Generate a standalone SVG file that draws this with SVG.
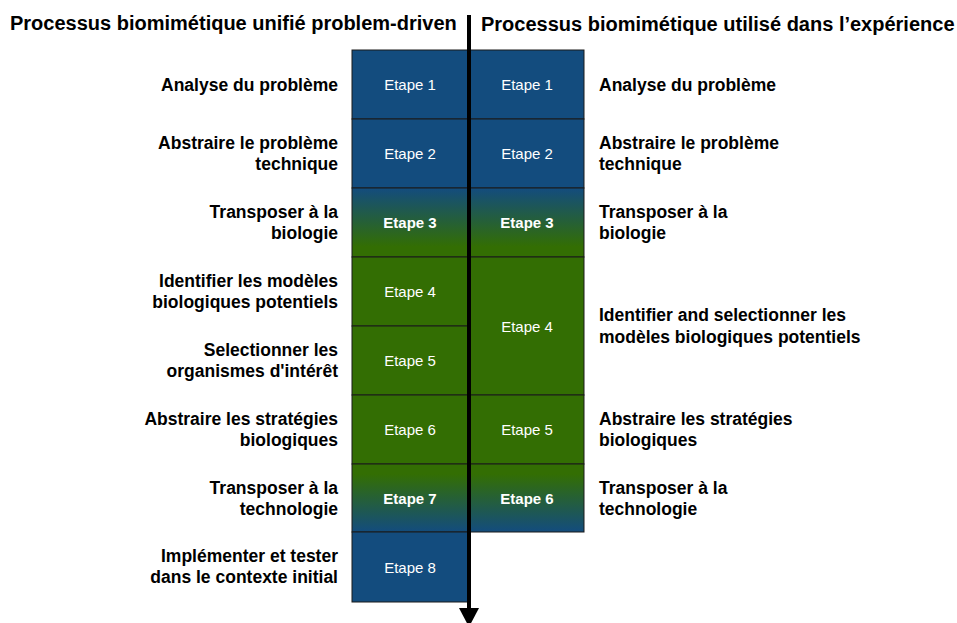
<svg xmlns="http://www.w3.org/2000/svg" width="957" height="623" viewBox="0 0 957 623">
<style>
.title{font-family:"Liberation Sans",Arial,sans-serif;font-weight:bold;font-size:20px;fill:#000}
.lbl{font-family:"Liberation Sans",Arial,sans-serif;font-weight:bold;font-size:17.5px;fill:#000}
.et{font-family:"Liberation Sans",Arial,sans-serif;font-size:15px;fill:#fff;text-anchor:middle;dominant-baseline:central}
.etb{font-weight:bold}
.cell{stroke:#1a1a1a;stroke-width:1}
.blue{fill:#134c7e}
.green{fill:#336e03}
.b2g{fill:url(#b2g)}
.g2b{fill:url(#g2b)}
.r{text-anchor:end}
</style>
<defs>
<linearGradient id="b2g" x1="0" y1="0" x2="0" y2="1">
<stop offset="0" stop-color="#134c7e"/>
<stop offset="0.85" stop-color="#336e03"/>
</linearGradient>
<linearGradient id="g2b" x1="0" y1="0" x2="0" y2="1">
<stop offset="0.15" stop-color="#336e03"/>
<stop offset="1" stop-color="#134c7e"/>
</linearGradient>
</defs>
<rect width="957" height="623" fill="#fff"/>
<text class="title" x="10" y="30">Processus biomimétique unifié problem-driven</text>
<text class="title" x="481" y="31">Processus biomimétique utilisé dans l’expérience</text>

<g id="left-steps">
<g id="L1"><rect class="cell blue" x="352" y="50" width="117" height="69"/><text class="et" x="410" y="84.5">Etape 1</text></g>
<g id="L2"><rect class="cell blue" x="352" y="119" width="117" height="69"/><text class="et" x="410" y="153.5">Etape 2</text></g>
<g id="L3"><rect class="cell b2g" x="352" y="188" width="117" height="69"/><text class="et etb" x="410" y="222.5">Etape 3</text></g>
<g id="L4"><rect class="cell green" x="352" y="257" width="117" height="69"/><text class="et" x="410" y="291.5">Etape 4</text></g>
<g id="L5"><rect class="cell green" x="352" y="326" width="117" height="69"/><text class="et" x="410" y="360.5">Etape 5</text></g>
<g id="L6"><rect class="cell green" x="352" y="395" width="117" height="69"/><text class="et" x="410" y="429.5">Etape 6</text></g>
<g id="L7"><rect class="cell g2b" x="352" y="464" width="117" height="68"/><text class="et etb" x="410" y="498">Etape 7</text></g>
<g id="L8"><rect class="cell blue" x="352" y="532" width="117" height="70"/><text class="et" x="410" y="567">Etape 8</text></g>
</g>

<g id="right-steps">
<g id="R1"><rect class="cell blue" x="469" y="50" width="115" height="69"/><text class="et" x="527" y="84.5">Etape 1</text></g>
<g id="R2"><rect class="cell blue" x="469" y="119" width="115" height="69"/><text class="et" x="527" y="153.5">Etape 2</text></g>
<g id="R3"><rect class="cell b2g" x="469" y="188" width="115" height="69"/><text class="et etb" x="527" y="222.5">Etape 3</text></g>
<g id="R4"><rect class="cell green" x="469" y="257" width="115" height="138"/><text class="et" x="527" y="326">Etape 4</text></g>
<g id="R5"><rect class="cell green" x="469" y="395" width="115" height="69"/><text class="et" x="527" y="429.5">Etape 5</text></g>
<g id="R6"><rect class="cell g2b" x="469" y="464" width="115" height="68"/><text class="et etb" x="527" y="498">Etape 6</text></g>
</g>

<g id="left-labels">
<text class="lbl r" x="338" y="91">Analyse du problème</text>
<text class="lbl r" x="338" y="149">Abstraire le problème</text>
<text class="lbl r" x="338" y="170">technique</text>
<text class="lbl r" x="338" y="218">Transposer à la</text>
<text class="lbl r" x="338" y="239">biologie</text>
<text class="lbl r" x="338" y="287">Identifier les modèles</text>
<text class="lbl r" x="338" y="308">biologiques potentiels</text>
<text class="lbl r" x="338" y="356">Selectionner les</text>
<text class="lbl r" x="338" y="377">organismes d'intérêt</text>
<text class="lbl r" x="338" y="425">Abstraire les stratégies</text>
<text class="lbl r" x="338" y="446">biologiques</text>
<text class="lbl r" x="338" y="493.5">Transposer à la</text>
<text class="lbl r" x="338" y="514.5">technologie</text>
<text class="lbl r" x="338" y="562">Implémenter et tester</text>
<text class="lbl r" x="338" y="583">dans le contexte initial</text>
</g>

<g id="right-labels">
<text class="lbl" x="599" y="91">Analyse du problème</text>
<text class="lbl" x="599" y="149">Abstraire le problème</text>
<text class="lbl" x="599" y="170">technique</text>
<text class="lbl" x="599" y="218">Transposer à la</text>
<text class="lbl" x="599" y="239">biologie</text>
<text class="lbl" x="599" y="321">Identifier and selectionner les</text>
<text class="lbl" x="599" y="342.5">modèles biologiques potentiels</text>
<text class="lbl" x="599" y="425">Abstraire les stratégies</text>
<text class="lbl" x="599" y="446">biologiques</text>
<text class="lbl" x="599" y="493.5">Transposer à la</text>
<text class="lbl" x="599" y="514.5">technologie</text>
</g>

<g id="connectors">
<line x1="469" y1="15" x2="469" y2="610" stroke="#000" stroke-width="4"/>
<polygon points="459,608 479,608 469,627" fill="#000"/>
</g>
</svg>
